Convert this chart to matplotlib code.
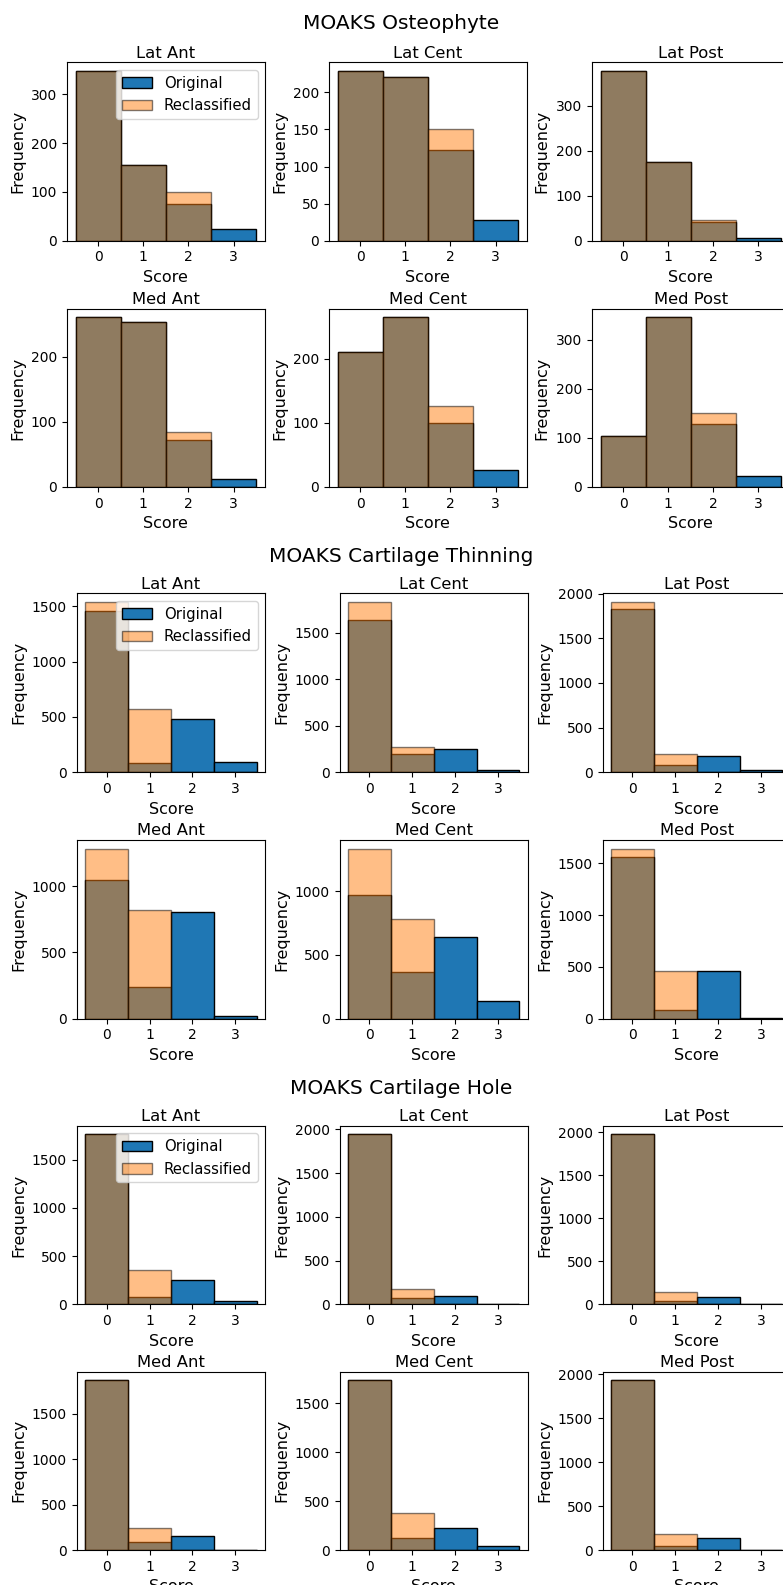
import matplotlib
matplotlib.use("Agg")
import matplotlib.pyplot as plt
from matplotlib.ticker import MaxNLocator

# Score categories and knee sub-regions
scores = [0, 1, 2, 3]
regions = ["Lat Ant", "Lat Cent", "Lat Post", "Med Ant", "Med Cent", "Med Post"]
sections = ["MOAKS Osteophyte", "MOAKS Cartilage Thinning", "MOAKS Cartilage Hole"]

# Counts per score (0..3) for each region, in the order of `regions`
osteophyte_original = [
    [348, 156, 76, 23],
    [229, 220, 122, 28],
    [378, 176, 42, 5],
    [260, 253, 72, 12],
    [210, 264, 99, 27],
    [104, 345, 128, 23],
]
osteophyte_reclassified = [
    [348, 156, 99, 0],
    [229, 220, 150, 0],
    [378, 176, 47, 0],
    [260, 253, 84, 0],
    [210, 264, 126, 0],
    [104, 345, 151, 0],
]
thinning_original = [
    [1460, 80, 478, 90],
    [1640, 195, 250, 22],
    [1827, 80, 186, 21],
    [1045, 238, 803, 18],
    [969, 364, 638, 140],
    [1561, 81, 457, 8],
]
thinning_reclassified = [
    [1540, 568, 0, 0],
    [1835, 272, 0, 0],
    [1907, 207, 0, 0],
    [1283, 821, 0, 0],
    [1333, 778, 0, 0],
    [1642, 465, 0, 0],
]
hole_original = [
    [1766, 73, 252, 31],
    [1944, 70, 97, 5],
    [1977, 42, 90, 6],
    [1871, 88, 152, 4],
    [1733, 120, 220, 40],
    [1932, 45, 132, 1],
]
hole_reclassified = [
    [1766, 356, 0, 0],
    [1944, 172, 0, 0],
    [1977, 138, 0, 0],
    [1871, 244, 0, 0],
    [1733, 380, 0, 0],
    [1932, 178, 0, 0],
]

section_data = [
    (osteophyte_original, osteophyte_reclassified),
    (thinning_original, thinning_reclassified),
    (hole_original, hole_reclassified),
]

W, H = 783, 1585
fig = plt.figure(figsize=(W / 100, H / 100), dpi=100)

# Layout in pixels: (row top, row bottom) per section, column lefts and width
row_bounds = [
    [(62.3, 240.7), (309.0, 487.0)],
    [(593.3, 772.3), (840.0, 1018.7)],
    [(1125.7, 1304.3), (1371.7, 1550.0)],
]
col_lefts = [
    [66.7, 328.7, 591.5],
    [76.7, 339.5, 602.5],
    [76.7, 339.5, 602.5],
]
col_widths = [198.4, 188.5, 188.5]
title_baselines = [29.3, 561.7, 1094.5]

TICK_FS = 10
LABEL_FS = 11.5
TITLE_FS = 11.8
LEGEND_FS = 10.7
SUPTITLE_FS = 14.5


def px_rect(left, top, width, bottom):
    return [left / W, 1 - bottom / H, width / W, (bottom - top) / H]


for s, (name, (orig, reclass)) in enumerate(zip(sections, section_data)):
    fig.text(401 / W, 1 - title_baselines[s] / H, name, ha="center",
             va="baseline", fontsize=SUPTITLE_FS)
    for i, region in enumerate(regions):
        r, c = divmod(i, 3)
        top, bottom = row_bounds[s][r]
        ax = fig.add_axes(px_rect(col_lefts[s][c], top, col_widths[s], bottom))
        ax.bar(scores, orig[i], width=1.0, color="C0", edgecolor="black",
               label="Original")
        ax.bar(scores, reclass[i], width=1.0, color="C1", edgecolor="black",
               alpha=0.5, label="Reclassified")
        ax.set_xticks(scores)
        ax.yaxis.set_major_locator(MaxNLocator(nbins=5, steps=[1, 2, 2.5, 5, 10]))
        ax.tick_params(labelsize=TICK_FS)
        ax.set_title(region, fontsize=TITLE_FS, pad=3.3)
        ax.set_xlabel("Score", fontsize=LABEL_FS)
        ax.set_ylabel("Frequency", fontsize=LABEL_FS)
        if i == 0:
            ax.legend(loc="upper right", fontsize=LEGEND_FS)

fig.savefig("out.png", dpi=100)
